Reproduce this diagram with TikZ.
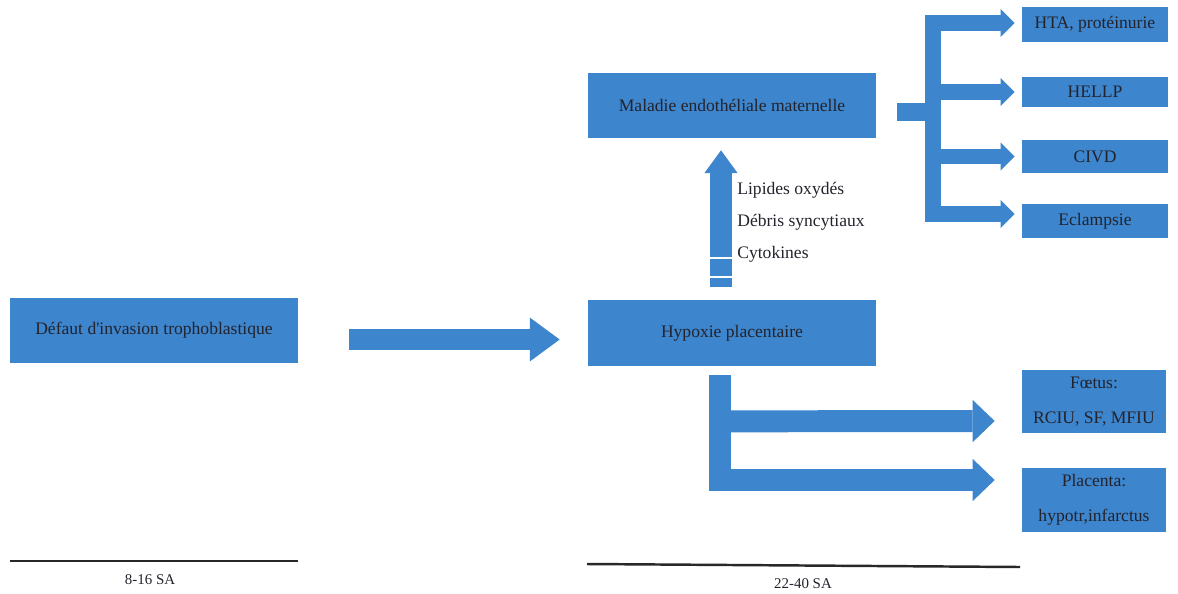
\documentclass[tikz,border=0pt]{standalone}
\usepackage{fontspec}
\setmainfont{Liberation Serif}
\usetikzlibrary{arrows.meta,calc}
\definecolor{boxblue}{RGB}{61,133,204}
\definecolor{boxtext}{RGB}{35,35,45}
\definecolor{rulecol}{RGB}{40,40,40}

\begin{document}
\begin{tikzpicture}[x=0.02cm, y=-0.02cm,
    bluebox/.style={fill=boxblue, text=boxtext, minimum width=5.76cm, minimum height=1.3cm, inner sep=0pt, font=\fontsize{10}{12}\selectfont},
    smallbox/.style={bluebox, minimum width=2.92cm, align=center},
    bigarrow/.style={boxblue, line width=12pt, -{Triangle[width=25pt,length=17pt,line width=0pt]}},
    uparrow/.style={boxblue, line width=12.5pt, -{Triangle[width=19pt,length=13pt,line width=0pt]}},
    lowarrow/.style={boxblue, line width=12.5pt, -{Triangle[width=24pt,length=12.5pt,line width=0pt]}},
    forkarrow/.style={boxblue, line width=9pt, -{Triangle[width=16pt,length=8pt,line width=0pt]}},
    lbl/.style={anchor=west, inner sep=0pt, text=boxtext, font=\fontsize{10}{12}\selectfont},
    period/.style={text=boxtext, font=\fontsize{8.5}{10}\selectfont}]
  \useasboundingbox (0,0) rectangle (1178,593);
  % boxes
  \node[bluebox] (defaut) at (154,330.5) {Défaut d\textquotesingle invasion trophoblastique};
  \node[bluebox, minimum height=1.32cm] (hypoxie) at (732,333) {Hypoxie placentaire};
  \node[bluebox] (maladie) at (732,105.5) {Maladie endothéliale maternelle};
  \foreach \name/\txt/\y/\h in {hta/{HTA, protéinurie}/24.5/0.7cm, hellp/HELLP/92/0.6cm,
      civd/CIVD/156.5/0.66cm, eclampsie/Eclampsie/221/0.68cm}
    \node[smallbox, minimum height=\h] (\name) at (1095,\y) {\txt};
  \node[smallbox, minimum width=2.88cm, minimum height=1.26cm] (foetus) at (1094,401.5) {Fœtus:\\[8pt]RCIU, SF, MFIU};
  \node[smallbox, minimum width=2.88cm, minimum height=1.28cm] (placenta) at (1094,500) {Placenta:\\[8pt]hypotr,infarctus};

  % arrows
  \draw[bigarrow] ($(defaut.east)+(51,9)$) -- ($(hypoxie.west)+(-28,6.5)$);
  \draw[uparrow] ($(hypoxie.north)+(-11,-13)$) -- ($(maladie.south)+(-11,12)$);
  \foreach \y in {258,277}
    \draw[white, line width=0.8pt] (709,\y) -- (734,\y);
  \node[lbl] (lipides) at (737,190) {Lipides oxydés};
  \node[lbl] (debris) at (737,222) {Débris syncytiaux};
  \node[lbl] (cytokines) at (737,254) {Cytokines};

  \coordinate (fork) at ($(maladie.east)+(56.5,6.5)$);
  \draw[boxblue, line width=10.5pt] ($(maladie.east)+(21,6.5)$) -- (fork);
  \draw[forkarrow] (fork) |- ($(hta.west)+(-7,-1.5)$);
  \draw[forkarrow] (fork |- hellp.west) -- ($(hellp.west)+(-7,0)$);
  \draw[forkarrow] (fork |- civd.west) -- ($(civd.west)+(-7,0)$);
  \draw[forkarrow] (fork) |- ($(eclampsie.west)+(-7,-7)$);

  \coordinate (drop) at ($(hypoxie.south)+(-12,9)$);
  \draw[lowarrow] (drop) |- ($(placenta.west)+(-27,-20)$);
  \draw[lowarrow] ($(drop)+(0,46)$) -- ($(foetus.west)+(-27,19.5)$);

  % time scale
  \node[period] (early) at (150,580) {8-16 SA};
  \node[period] (late) at (803,584) {22-40 SA};
  \draw[rulecol, line width=1.4pt] (10,561) -- (298,561);
  \draw[rulecol, line width=1.4pt] (587,564) -- (1020,567);
\end{tikzpicture}
\end{document}
